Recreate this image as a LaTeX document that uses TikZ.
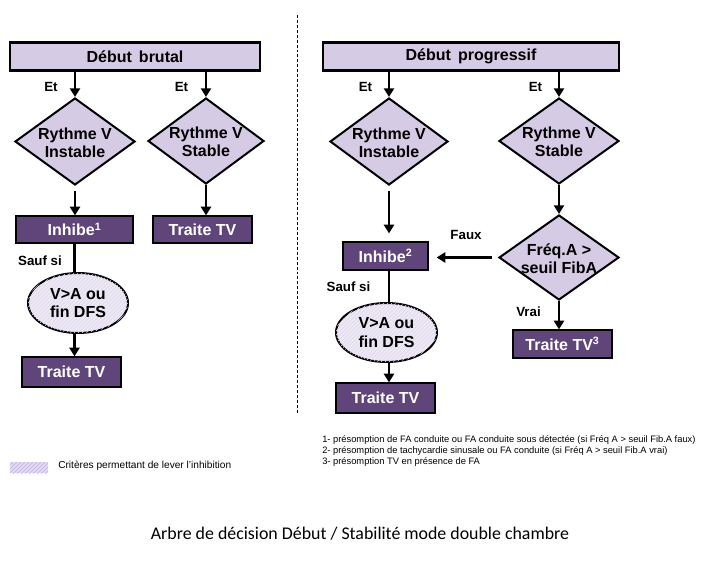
\documentclass[tikz,border=0pt]{standalone}
\usepackage{fontspec}
\setmainfont{Liberation Sans}
\newfontfamily\capfont{Carlito}
\usetikzlibrary{shapes.geometric,arrows.meta,patterns}
\definecolor{lightp}{HTML}{D6CBE4}
\definecolor{darkp}{HTML}{5F4579}
\definecolor{ovalfill}{HTML}{EEEAF4}
\definecolor{hatch}{HTML}{DDD6EA}
\definecolor{swfill}{HTML}{E2DAF0}
\definecolor{swhatch}{HTML}{C3B5DE}
\tikzset{
  head/.style={draw=black, line width=2.2pt, fill=lightp, inner sep=0pt,
    font=\bfseries\fontsize{12}{14}\selectfont},
  dia/.style={diamond, draw=black, line width=1.5pt, fill=lightp, inner sep=0pt},
  dtext/.style={align=center, inner sep=0pt, font=\bfseries\fontsize{12}{13.5}\selectfont},
  dbox/.style={draw=black, line width=0.9pt, fill=darkp, text=white, inner sep=0pt,
    font=\bfseries\fontsize{12}{14}\selectfont},
  oval/.style={ellipse, draw=black, line width=1.5pt, fill=ovalfill,
    postaction={pattern=north east lines, pattern color=hatch},
    inner sep=0pt, align=center, font=\bfseries\fontsize{12}{14}\selectfont},
  arr/.style={-{Triangle[width=7.5pt,length=6.5pt]}, line width=2pt},
  ln/.style={line width=2pt},
  lbl/.style={inner sep=0pt, font=\bfseries\fontsize{10}{12}\selectfont},
  note/.style={anchor=west, inner sep=0pt, font=\fontsize{7}{8}\selectfont},
}
\begin{document}
\begin{tikzpicture}[x=0.75pt,y=-0.75pt]
\useasboundingbox[fill=white] (0,0) rectangle (711,567);

% separator
\draw[line width=0.75pt, dash pattern=on 2.2pt off 1.5pt] (297,15) -- (297,413);

% ---------------- left: Debut brutal
\node[head, minimum width=187.5pt, minimum height=21pt] (db) at (135,56.5) {Début\,\ brutal};
\node[dia, minimum width=90pt, minimum height=65.25pt] (d1) at (75,141.5) {};
\node[dtext] (d1t) at (75,142.5) {Rythme V\\Instable};
\node[dia, minimum width=87pt, minimum height=64.5pt] (d2) at (206,141) {};
\node[dtext] (d2t) at (206,142) {Rythme V\\Stable};
\node[dbox, minimum width=87.75pt, minimum height=20.25pt] (i1) at (74.5,229.5) {Inhibe\textsuperscript{1}};
\node[dbox, minimum width=74.25pt, minimum height=20.25pt] (t1) at (202.5,229.5) {Traite TV};
\node[oval, minimum width=75pt, minimum height=45pt] (e1) at (78,303) {V>A ou\\fin DFS};
\node[dbox, minimum width=74.25pt, minimum height=22.5pt] (t2) at (71.5,372) {Traite TV};

\node[lbl] (et1) at (51,87) {Et};
\node[lbl] (et2) at (181.5,87) {Et};
\node[lbl] (sauf1) at (40,261) {Sauf si};

\draw[arr] (db.south -| d1.north) -- (d1.north);
\draw[arr] (db.south -| d2.north) -- (d2.north);
\draw[arr, shorten <=4pt] (d1.south) -- (d1.south |- i1.north);
\draw[arr] (d2.south) -- (d2.south |- t1.north);
\draw[ln] (i1.south) -- (i1.south |- e1.north);
\draw[arr] (i1.south |- e1.south) -- (i1.south |- t2.north);

% ---------------- right: Debut progressif
\node[head, minimum width=222pt, minimum height=21pt] (dp) at (471,56.5) {Début\,\ progressif};
\node[dia, minimum width=88.5pt, minimum height=65.25pt] (d3) at (389,141.5) {};
\node[dtext] (d3t) at (389,142.5) {Rythme V\\Instable};
\node[dia, minimum width=90pt, minimum height=64.5pt] (d4) at (559,141) {};
\node[dtext] (d4t) at (559,142) {Rythme V\\Stable};
\node[dia, minimum width=90pt, minimum height=63.75pt] (d5) at (559,257.5) {};
\node[dtext] (d5t) at (559,258.5) {Fréq.A >\\seuil FibA};
\node[dbox, minimum width=63.75pt, minimum height=21pt] (i2) at (385.5,256) {Inhibe\textsuperscript{2}};
\node[oval, minimum width=75.75pt, minimum height=44.25pt] (e2) at (386.5,332.5) {V>A ou\\fin DFS};
\node[dbox, minimum width=74.25pt, minimum height=22.5pt] (t3) at (385.5,398) {Traite TV};
\node[dbox, minimum width=74.25pt, minimum height=21pt] (t4) at (562.5,344) {Traite TV\textsuperscript{3}};

\node[lbl] (et3) at (365.5,87) {Et};
\node[lbl] (et4) at (535.5,87) {Et};
\node[lbl] (faux) at (466,235) {Faux};
\node[lbl] (vrai) at (528.5,312) {Vrai};
\node[lbl] (sauf2) at (348.5,287) {Sauf si};

\draw[arr] (dp.south -| d3.north) -- (d3.north);
\draw[arr] (dp.south -| d4.north) -- (d4.north);
\draw[arr, shorten <=4pt, shorten >=6pt] (d3.south) -- (d3.south |- i2.north);
\draw[arr] (d4.south) -- (d5.north);
\draw[arr, shorten <=4.5pt, shorten >=6pt] (d5.west) -- (i2.east |- d5.west);
\draw[arr] (d5.south) -- (d5.south |- t4.north);
\draw[ln] (d3.south |- i2.south) -- (d3.south |- e2.north);
\draw[arr] (d3.south |- e2.south) -- (d3.south |- t3.north);

% ---------------- notes
\node[note] (n1) at (322,440) {1- présomption de FA conduite ou FA conduite sous détectée (si Fréq A > seuil Fib.A faux)};
\node[note] (n2) at (322,451) {2- présomption de tachycardie sinusale ou FA conduite (si Fréq A > seuil Fib.A vrai)};
\node[note] (n3) at (322,462) {3- présomption TV en présence de FA};

% legend
\node[draw=none, fill=swfill, postaction={pattern=north east lines, pattern color=swhatch},
  minimum width=28.5pt, minimum height=8.25pt, inner sep=0pt] (sw) at (29,467.5) {};
\node[note, font=\fontsize{7.6}{9}\selectfont] (legt) at (58,466) {Critères permettant de lever l'inhibition};

% caption
\node[inner sep=0pt, font=\capfont\fontsize{13.4}{15}\selectfont] (cap) at (360,534) {Arbre de décision Début / Stabilité mode double chambre};
\end{tikzpicture}
\end{document}
